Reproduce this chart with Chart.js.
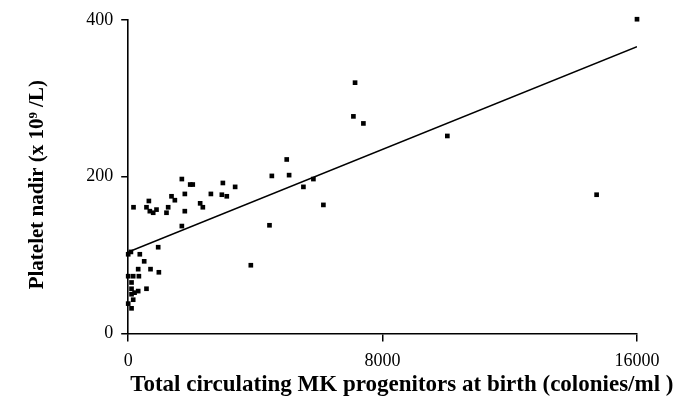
<!DOCTYPE html>
<html>
<head>
<meta charset="utf-8">
<script src="https://cdn.jsdelivr.net/npm/chart.js@4.4.0/dist/chart.umd.min.js"></script>
<style>
  html, body { margin: 0; padding: 0; background: #fff; }
  #wrap { width: 685px; height: 408px; }
</style>
</head>
<body>
<div id="wrap"><canvas id="plateletChart"></canvas></div>
<script>
// Datos
const progenitors = [0, 85, 365, 943, 503, 314, 702, 964, 0, 157, 336, 105, 105, 314, 575, 105, 200, 157, 0, 105,
  167, 650, 575, 680, 786, 890, 1204, 1257, 1362, 1467, 1687, 1781, 1780, 1950, 2030,
  2263, 2347, 2600, 2977, 2945, 3100, 3363, 1687,
  4985, 4517, 5060, 5824, 5510, 6138, 4443, 3856,
  7134, 7082, 7396, 10036, 16000, 14730];
const nadir = [101, 104, 101, 110, 92, 82, 82, 78, 73, 73, 73, 65, 57, 54, 57, 50, 52, 43, 38, 32,
  161, 169, 161, 156, 154, 158, 154, 161, 175, 170, 197, 178, 156, 190, 190,
  166, 161, 178, 192, 177, 175, 187, 137,
  222, 201, 202, 197, 187, 164, 138, 87,
  320, 277, 268, 252, 401, 177];
const fitX = [0, 16000];
const fitY = [104, 366];
const xTicks = [0, 8000, 16000];
const yTicks = [0, 200, 400];
const xTitle = 'Total circulating MK progenitors at birth (colonies/ml )';
const yTitle = 'Platelet nadir (x 10\u2079 /L)';

Chart.defaults.font.family = '"Liberation Serif", "Times New Roman", serif';
Chart.defaults.color = '#000';

const points = progenitors.map((x, i) => ({ x: x, y: nadir[i] }));
const fitLine = fitX.map((x, i) => ({ x: x, y: fitY[i] }));

// Los títulos de los ejes no van centrados en el área del gráfico (y el de X se sale),
// así que Chart.js sólo reserva el espacio y los dibujamos aparte
const axisTitlesPlugin = {
  id: 'axisTitlesPlugin',
  afterDraw(chart) {
    const ctx = chart.ctx;
    const sx = chart.scales.x;
    const sy = chart.scales.y;
    ctx.save();
    ctx.fillStyle = '#000';
    ctx.textBaseline = 'middle';

    ctx.font = 'bold 23px "Liberation Serif", "Times New Roman", serif';
    ctx.textAlign = 'left';
    ctx.fillText(xTitle, sx.left + 2, sx.bottom - 19);

    ctx.font = 'bold 21px "Liberation Serif", "Times New Roman", serif';
    ctx.textAlign = 'center';
    ctx.translate(sy.left + 13, (sy.top + sy.bottom) / 2 + 8);
    ctx.rotate(-Math.PI / 2);
    ctx.fillText(yTitle, 0, 0);
    ctx.restore();
  }
};

new Chart(document.getElementById('plateletChart'), {
  type: 'scatter',
  data: {
    datasets: [{
      data: points,
      pointStyle: 'rect',
      pointRadius: 3.3,
      backgroundColor: '#000',
      borderColor: '#000',
      borderWidth: 0,
      clip: false
    }, {
      type: 'line',
      data: fitLine,
      borderColor: '#000',
      borderWidth: 1.6,
      pointRadius: 0,
      fill: false
    }]
  },
  plugins: [axisTitlesPlugin],
  options: {
    responsive: true,
    maintainAspectRatio: false,
    animation: false,
    layout: { padding: { top: 20, right: 48, left: 25, bottom: 4 } },
    plugins: { legend: { display: false }, tooltip: { enabled: false } },
    scales: {
      x: {
        type: 'linear',
        min: 0,
        max: 16000,
        afterBuildTicks: axis => { axis.ticks = xTicks.map(v => ({ value: v })); },
        grid: { drawOnChartArea: false, drawTicks: true, tickLength: 8, color: '#000', lineWidth: 1.5 },
        border: { color: '#000', width: 1.6 },
        ticks: { font: { size: 18 }, padding: 9, maxRotation: 0, callback: v => String(v) },
        title: {
          display: true,
          text: xTitle,
          color: 'rgba(0,0,0,0)',
          font: { size: 23, weight: 'bold', lineHeight: 1 },
          padding: { top: 0, bottom: 0 }
        }
      },
      y: {
        min: 0,
        max: 400,
        afterBuildTicks: axis => { axis.ticks = yTicks.map(v => ({ value: v })); },
        grid: { drawOnChartArea: false, drawTicks: true, tickLength: 7, color: '#000', lineWidth: 1.5 },
        border: { color: '#000', width: 1.6 },
        ticks: { font: { size: 18 }, padding: 8, callback: v => String(v) },
        title: {
          display: true,
          text: yTitle,
          color: 'rgba(0,0,0,0)',
          font: { size: 21, weight: 'bold' },
          padding: { top: 0, bottom: 28 }
        }
      }
    }
  }
});
</script>
</body>
</html>
